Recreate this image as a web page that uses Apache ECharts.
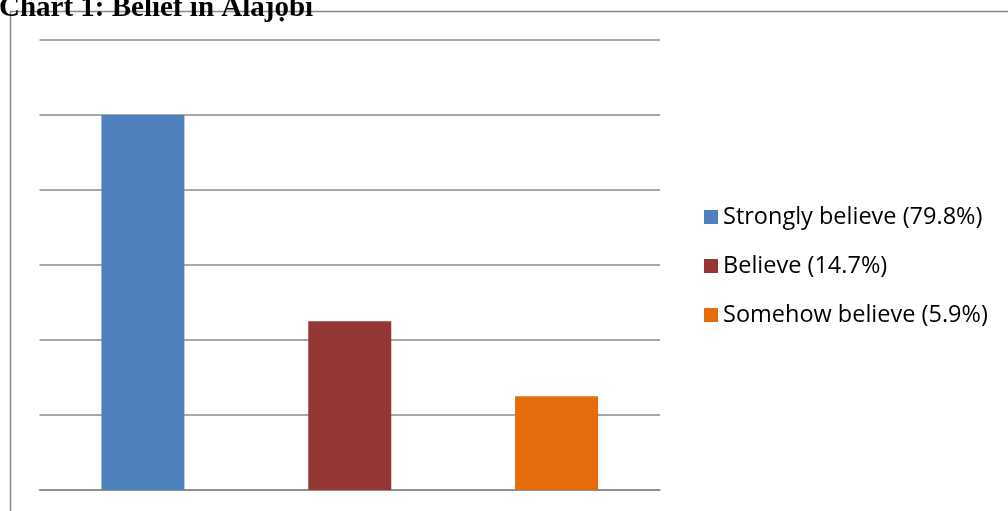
<!DOCTYPE html>
<html><head><meta charset="utf-8">
<script src="https://cdn.jsdelivr.net/npm/echarts@6/dist/echarts.min.js"></script>
<style>html,body{margin:0;padding:0;background:#fff}#c{width:1008px;height:511px}</style>
</head><body><div id="c"></div>
<script>
const categories = ['Strongly believe (79.8%)', 'Believe (14.7%)', 'Somehow believe (5.9%)'];
const values = [5, 2.25, 1.25];
const colors = ['#4f81bd', '#953735', '#e46c0a'];
const titleText = 'Chart 1: Belief in Alajọbi';

const chart = echarts.init(document.getElementById('c'));
const series = categories.map((name, i) => ({
  name: name,
  type: 'bar',
  stack: 'all',
  barWidth: 83,
  itemStyle: { color: colors[i] },
  data: categories.map((c, j) => j === i ? values[i] : '-')
}));
chart.setOption({
  animation: false,
  title: {
    text: titleText, left: -1, top: -6, padding: 0,
    textStyle: { fontFamily: 'Liberation Serif', fontWeight: 'bold', fontSize: 29, color: '#000' }
  },
  graphic: [
    { type: 'line', shape: { x1: 10, y1: 11.5, x2: 1008, y2: 11.5 }, style: { stroke: '#8a8a8a', lineWidth: 1.5 } },
    { type: 'line', shape: { x1: 10.5, y1: 11, x2: 10.5, y2: 511 }, style: { stroke: '#8a8a8a', lineWidth: 1.5 } }
  ],
  grid: { left: 39.5, top: 40, width: 620.5, height: 450 },
  xAxis: {
    type: 'category', data: categories,
    axisLine: { show: true, lineStyle: { color: '#8a8a8a', width: 1.5 } },
    axisTick: { show: false }, axisLabel: { show: false }
  },
  yAxis: {
    type: 'value', min: 0, max: 6, interval: 1,
    axisLabel: { show: false }, axisLine: { show: false }, axisTick: { show: false },
    splitLine: { lineStyle: { color: '#8a8a8a', width: 1.5 } }
  },
  legend: {
    orient: 'vertical', left: 704, top: 205, icon: 'rect',
    itemWidth: 14, itemHeight: 14, itemGap: 25, padding: 0,
    textStyle: { fontFamily: 'Open Sans', fontSize: 23.5, color: '#000', lineHeight: 22 },
    data: categories
  },
  series: series
});
</script></body></html>
